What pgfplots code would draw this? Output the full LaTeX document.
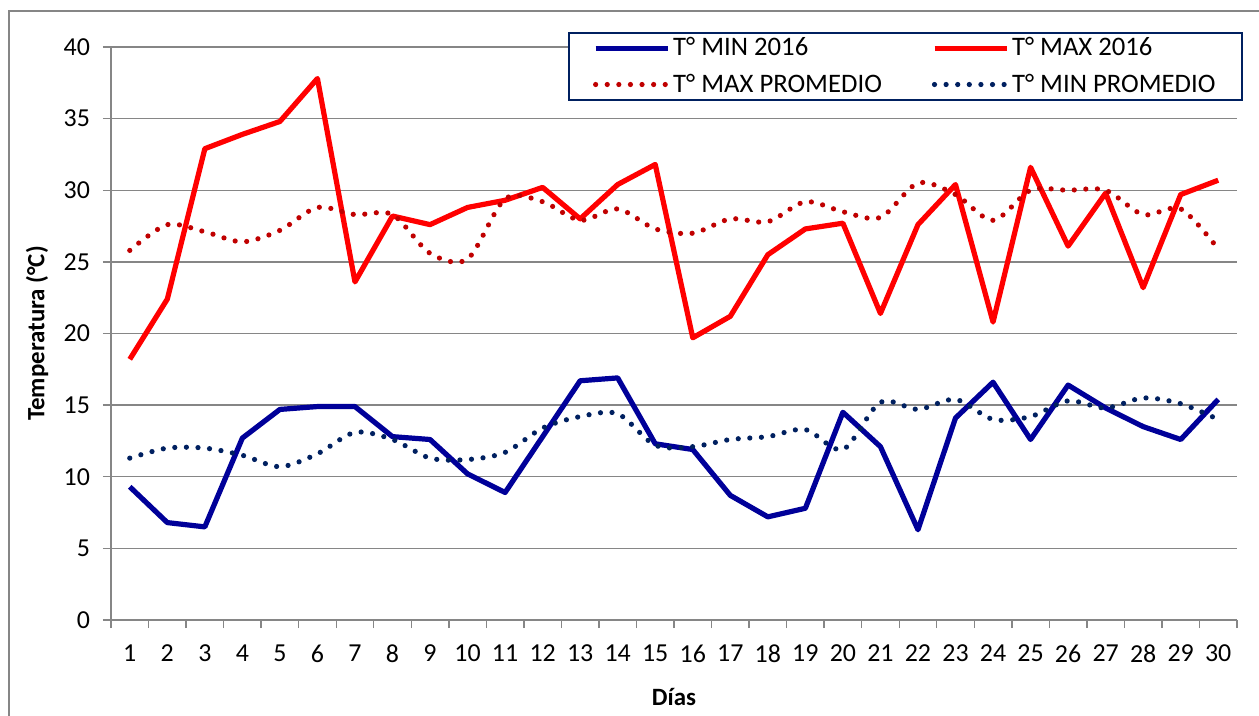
\documentclass[border=0pt]{standalone}
\usepackage{pgfplots}
\usepackage{pgfplotstable}
\pgfplotsset{compat=1.18}
\usepackage{fontspec}
\setmainfont{Carlito}
\definecolor{gridgray}{RGB}{134,134,134}
\definecolor{minblue}{RGB}{0,0,153}
\definecolor{maxred}{RGB}{255,0,0}
\definecolor{maxprom}{RGB}{192,0,0}
\definecolor{minprom}{RGB}{0,32,96}
\definecolor{legborder}{RGB}{0,32,96}

\pgfplotstableread{
day tmin tmax maxprom minprom
1 9.3 18.2 25.8 11.3
2 6.8 22.4 27.6 12.0
3 6.5 32.9 27.1 12.0
4 12.7 33.9 26.4 11.5
5 14.7 34.8 27.2 10.7
6 14.9 37.8 28.8 11.6
7 14.9 23.6 28.3 13.1
8 12.8 28.2 28.3 12.6
9 12.6 27.6 25.6 11.3
10 10.2 28.8 25.2 11.2
11 8.9 29.3 29.4 11.7
12 12.8 30.2 29.2 13.4
13 16.7 28.0 27.9 14.2
14 16.9 30.4 28.7 14.4
15 12.3 31.8 27.3 12.2
16 11.9 19.7 27.0 12.1
17 8.7 21.2 28.0 12.6
18 7.2 25.5 27.8 12.8
19 7.8 27.3 29.2 13.3
20 14.5 27.7 28.5 11.9
21 12.1 21.4 28.1 15.2
22 6.3 27.6 30.5 14.7
23 14.1 30.4 29.7 15.4
24 16.6 20.8 27.9 14.0
25 12.6 31.6 30.0 14.2
26 16.4 26.1 30.0 15.3
27 14.8 29.8 30.0 14.8
28 13.5 23.2 28.3 15.5
29 12.6 29.7 28.7 15.1
30 15.4 30.7 25.9 14.0
}\data

\begin{document}
\begin{tikzpicture}
\begin{axis}[
  at={(55.5bp,48bp)}, anchor=south west,
  scale only axis, width=563bp, height=286.5bp,
  xmin=0.5, xmax=30.5, ymin=0, ymax=40,
  clip=false,
  axis x line*=bottom, axis y line*=left,
  axis line style={gridgray, line width=0.7bp, -},
  xtick={1,...,30},
  minor xtick={0.5,1.5,...,30.5},
  major x tick style={draw=none},
  minor x tick style={gridgray, line width=0.7bp},
  minor tick length=4bp,
  major tick length=4bp,
  tick align=outside,
  ytick={0,5,...,40},
  ymajorgrids,
  major grid style={gridgray, line width=0.7bp},
  y tick style={gridgray, line width=0.7bp},
  tick label style={font=\fontsize{13}{15}\selectfont, black},
  /pgf/number format/assume math mode=true,
  xticklabel style={yshift=-5bp},
  yticklabel style={xshift=-3bp},
  xlabel={Días},
  ylabel={Temperatura (°C)},
  label style={font=\bfseries\fontsize{12.5}{14}\selectfont},
  xlabel style={at={(axis description cs:0.5,-0.1344)}, anchor=center},
  ylabel style={at={(axis description cs:-0.0657,0.5)}, anchor=center},
  legend columns=2,
  legend cell align=left,
  legend style={at={(0.4059,1.0267)}, anchor=north west,
    draw=legborder, line width=1bp,
    font=\fontsize{13.4}{15}\selectfont,
    nodes={inner xsep=1.5bp},
    inner xsep=12bp, inner ysep=0.5bp, row sep=3.5bp,
    /tikz/every even column/.append style={column sep=23.5bp}},
  legend image code/.code={\draw[#1] (0bp,0bp) -- (36bp,0bp);},
]
\addplot[minblue, line width=2.6bp, line join=round] table[x=day,y=tmin]{\data};
\addplot[maxred, line width=2.6bp, line join=round] table[x=day,y=tmax]{\data};
\addplot[maxprom, line width=2.6bp, line cap=round, dash pattern=on 0pt off 5.8bp, smooth] table[x=day,y=maxprom]{\data};
\addplot[minprom, line width=2.6bp, line cap=round, dash pattern=on 0pt off 5.8bp, smooth] table[x=day,y=minprom]{\data};
\legend{T° MIN 2016, T° MAX 2016, T° MAX PROMEDIO, T° MIN PROMEDIO}
\end{axis}
\draw[gridgray, line width=0.7bp] (4.5bp,-20bp) -- (4.5bp,352.5bp) -- (700bp,352.5bp);
\pgfresetboundingbox
\useasboundingbox (0bp,0bp) rectangle (629.5bp,358bp);
\end{tikzpicture}
\end{document}
